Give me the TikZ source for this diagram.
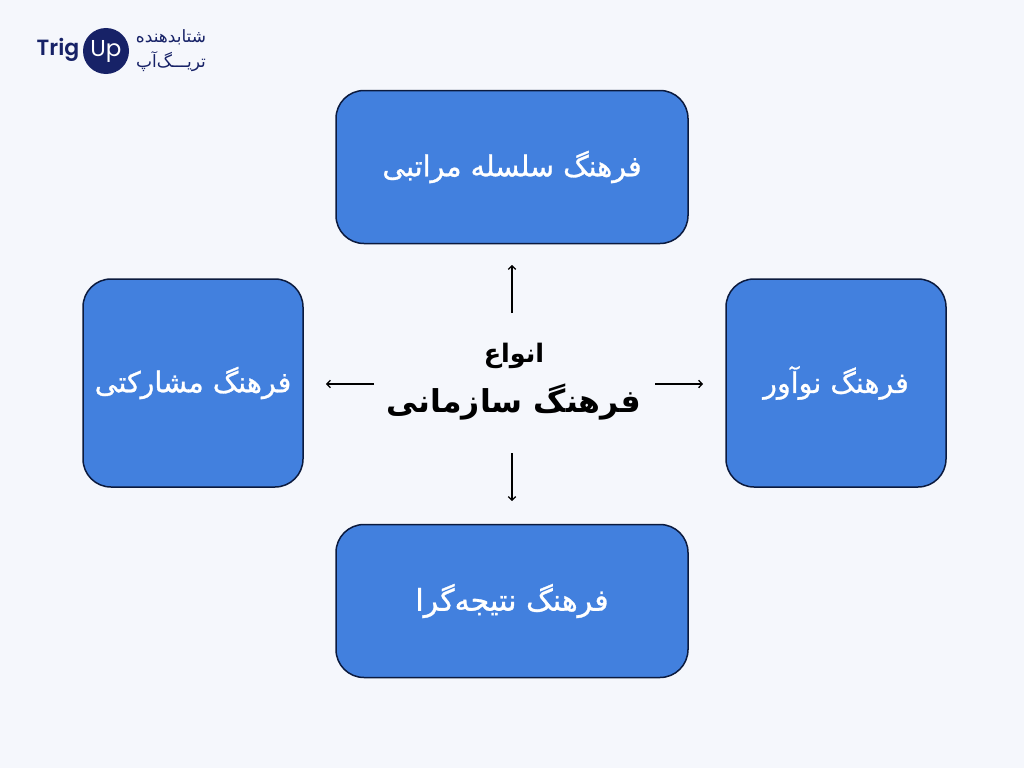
\documentclass[tikz,border=0pt]{standalone}
\usepackage{fontspec}
\setmainfont{Liberation Sans}
\newfontfamily\arabicfont[Script=Arabic]{DejaVu Sans}
\newfontfamily\arabicmed[Script=Arabic,FakeBold=1]{DejaVu Sans}
\newfontfamily\logofont{Poppins SemiBold}
\newfontfamily\logoreg{Poppins}
\TeXXeTstate=1
\definecolor{bgc}{HTML}{F5F7FC}
\definecolor{boxc}{HTML}{4280DE}
\definecolor{navy}{HTML}{172267}
\definecolor{edgec}{HTML}{0B1A3E}
\newcommand{\fa}[1]{{\arabicfont\beginR #1\endR}}
\newcommand{\fm}[1]{\raisebox{2pt}{\arabicmed\beginR #1\endR}}
\usetikzlibrary{arrows.meta}
\tikzset{
  box/.style={draw=edgec,line width=1.5pt,fill=boxc,rounded corners=28pt,inner sep=0pt,text=white,font=\fontsize{28.5}{32}\selectfont},
  link/.style={draw=black,line width=1.3pt,-{Straight Barb[length=3.5pt,width=7.5pt]}}
}
\begin{document}
\begin{tikzpicture}[x=1pt,y=-1pt]
\useasboundingbox (0,0) rectangle (1024,768);
\fill[bgc] (0,0) rectangle (1024,768);
\node[box,minimum width=352pt,minimum height=153pt] (top) at (512,167) {\fm{فرهنگ سلسله مراتبی}};
\node[box,minimum width=352pt,minimum height=153pt,font=\fontsize{30}{34}\selectfont] (bot) at (512,601) {\fm{فرهنگ نتیجه‌گرا}};
\node[box,minimum width=220pt,minimum height=208pt] (lft) at (193,383) {\fm{فرهنگ مشارکتی}};
\node[box,minimum width=220pt,minimum height=208pt] (rgt) at (836,383) {\fm{فرهنگ نوآور}};
\node[font=\fontsize{25.5}{28}\selectfont\bfseries] (t1) at (514,356) {\fa{انواع}};
\node[font=\fontsize{31.5}{36}\selectfont\bfseries] (t2) at (514,402) {\fa{فرهنگ سازمانی}};
\coordinate (au) at (512,313); \coordinate (ad) at (512,453);
\coordinate (al) at (374,384); \coordinate (ar) at (655,384);
\coordinate (eu) at (512,265); \coordinate (ed) at (512,501);
\coordinate (el) at (326,384); \coordinate (er) at (703,384);
\draw[link] (au) -- (eu);
\draw[link] (ad) -- (ed);
\draw[link] (al) -- (el);
\draw[link] (ar) -- (er);
\node[circle,fill=navy,minimum size=46pt,inner sep=0pt,text=white,font=\logoreg\fontsize{23}{25}\selectfont] (up) at (106,51) {Up};
\node[text=navy,font=\logofont\fontsize{22}{24}\selectfont] (trig) at (58,50) {Trig};
\node[text=navy,font=\fontsize{17}{19}\selectfont] (l1) at (171,37) {\fa{شتابدهنده}};
\node[text=navy,font=\fontsize{17}{19}\selectfont] (l2) at (171,62) {\fa{تریـــگ‌آپ}};
\end{tikzpicture}
\end{document}
